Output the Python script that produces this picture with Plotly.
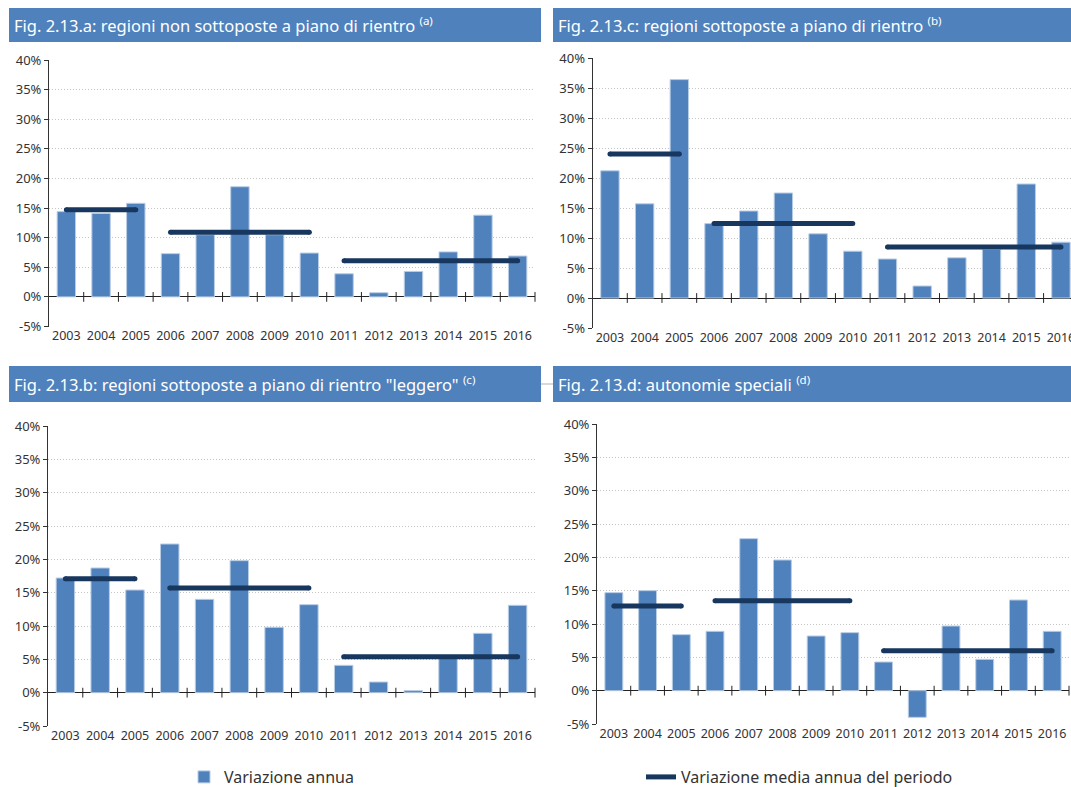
import plotly.graph_objects as go

W, H = 1071, 787

years = ["2003", "2004", "2005", "2006", "2007", "2008", "2009",
         "2010", "2011", "2012", "2013", "2014", "2015", "2016"]

# Fig. 2.13.a
a_annual = [14.4, 14.1, 15.8, 7.3, 10.5, 18.6, 10.5, 7.4, 3.9, 0.7, 4.3, 7.6, 13.8, 6.9]
a_mean = [14.7, 10.9, 6.1]
# Fig. 2.13.c
c_annual = [21.2, 15.7, 36.4, 12.4, 14.5, 17.5, 10.7, 7.8, 6.5, 2.0, 6.7, 8.1, 19.0, 9.3]
c_mean = [24.0, 12.4, 8.5]
# Fig. 2.13.b
b_annual = [17.2, 18.7, 15.4, 22.3, 14.0, 19.8, 9.8, 13.2, 4.1, 1.6, 0.3, 5.2, 8.9, 13.1]
b_mean = [17.1, 15.7, 5.4]
# Fig. 2.13.d
d_annual = [14.7, 15.0, 8.4, 8.9, 22.8, 19.6, 8.2, 8.7, 4.3, -4.0, 9.7, 4.7, 13.6, 8.9]
d_mean = [12.7, 13.5, 6.0]

periods = [("2003", "2005"), ("2006", "2010"), ("2011", "2016")]

y_ticks = [-5, 0, 5, 10, 15, 20, 25, 30, 35, 40]
y_ticktext = [f"{v}%" for v in y_ticks]

titles = [
    "Fig. 2.13.a: regioni non sottoposte a piano di rientro <sup>(a)</sup>",
    "Fig. 2.13.c: regioni sottoposte a piano di rientro <sup>(b)</sup>",
    "Fig. 2.13.b: regioni sottoposte a piano di rientro \"leggero\" <sup>(c)</sup>",
    "Fig. 2.13.d: autonomie speciali <sup>(d)</sup>",
]

BAR = "#4F81BD"
BAR_EDGE = "#B9CDE5"
MEAN = "#17375E"
HEAD = "#4F81BD"
FONT = "Noto Sans"
TFONT = "Noto Sans"

def px(x):
    return x / W

def py(y):
    return 1 - y / H

# panel layout in pixels: (x0, x1), (y of 40%, y of -5%), x range end, header box
panels = [
    dict(data=a_annual, mean=a_mean, x=(49, 535), y=(60, 326.5), xend=13.5,
         head=(9, 541, 8, 42)),
    dict(data=c_annual, mean=c_mean, x=(592.6, 1071), y=(58, 328), xend=13.29,
         head=(553, 1071, 8, 42)),
    dict(data=b_annual, mean=b_mean, x=(48, 535), y=(426, 726), xend=13.5,
         head=(9, 541, 366, 402)),
    dict(data=d_annual, mean=d_mean, x=(597, 1069), y=(424, 724), xend=13.5,
         head=(553, 1071, 366, 402)),
]

fig = go.Figure()
shapes = []
annotations = []
idx = list(range(len(years)))
boundaries = [i + 0.5 for i in idx]

for k, p in enumerate(panels):
    n = k + 1
    xa = "x" if n == 1 else f"x{n}"
    ya = "y" if n == 1 else f"y{n}"
    fig.add_trace(go.Bar(
        x=idx, y=p["data"], xaxis=xa, yaxis=ya, width=0.53,
        marker=dict(color=BAR, line=dict(color=BAR_EDGE, width=1)),
        name="Variazione annua", showlegend=False, hoverinfo="skip"))
    # zero-line tick marks at category boundaries
    fig.add_trace(go.Scatter(
        x=boundaries, y=[0] * len(boundaries), xaxis=xa, yaxis=ya,
        mode="markers", marker=dict(symbol="line-ns", size=7,
                                    line=dict(color="#222222", width=1)),
        showlegend=False, hoverinfo="skip", cliponaxis=False))
    for (s, e), m in zip(periods, p["mean"]):
        fig.add_trace(go.Scatter(
            x=[years.index(s), years.index(e)], y=[m, m], xaxis=xa, yaxis=ya,
            mode="lines+markers", line=dict(color=MEAN, width=5),
            marker=dict(color=MEAN, size=5),
            showlegend=False, hoverinfo="skip"))
    x0, x1 = p["x"]
    yt, yb = p["y"]
    common_x = dict(domain=[px(x0), px(x1)], range=[-0.5, p["xend"]],
                    tickmode="array", tickvals=idx, ticktext=years,
                    showgrid=False, zeroline=False, showline=False, ticks="",
                    ticklabeloverflow="allow",
                    tickfont=dict(family=FONT, size=12.5, color="#333333"),
                    anchor=ya, fixedrange=True)
    common_y = dict(domain=[py(yb), py(yt)], range=[-5, 40],
                    tickmode="array", tickvals=y_ticks, ticktext=y_ticktext,
                    showgrid=True, gridcolor="#C4C4C4", griddash="1px,2px",
                    gridwidth=1,
                    zeroline=True, zerolinecolor="#222222", zerolinewidth=1,
                    showline=True, linecolor="#333333", linewidth=1,
                    ticks="outside", ticklen=4, tickcolor="#333333",
                    tickfont=dict(family=FONT, size=13, color="#333333"),
                    anchor=xa, fixedrange=True)
    fig.layout["xaxis" if n == 1 else f"xaxis{n}"] = common_x
    fig.layout["yaxis" if n == 1 else f"yaxis{n}"] = common_y

    hx0, hx1, hy0, hy1 = p["head"]
    shapes.append(dict(type="rect", xref="paper", yref="paper",
                       x0=px(hx0), x1=px(hx1), y0=py(hy1), y1=py(hy0),
                       fillcolor=HEAD, line=dict(width=0), layer="below"))
    annotations.append(dict(text=titles[k], xref="paper", yref="paper",
                            x=px(hx0 + 3), y=py((hy0 + hy1) / 2),
                            xanchor="left", yanchor="middle", showarrow=False,
                            font=dict(family=TFONT, size=16.5, color="white")))

# small connector line between bottom title bars
shapes.append(dict(type="line", xref="paper", yref="paper",
                   x0=px(541), x1=px(553), y0=py(384), y1=py(384),
                   line=dict(color="#D9D9D9", width=2)))

# legend-only entries
fig.add_trace(go.Bar(x=[None], y=[None], name="Variazione annua",
                     marker=dict(color=BAR, line=dict(color=BAR_EDGE, width=1)),
                     showlegend=True, legend="legend"))
fig.add_trace(go.Scatter(x=[None], y=[None], mode="lines",
                         name="Variazione media annua del periodo",
                         line=dict(color=MEAN, width=5), showlegend=True,
                         legend="legend2"))

leg_common = dict(orientation="h", xanchor="left", yanchor="middle",
                  font=dict(family=FONT, size=16, color="#333333"),
                  bgcolor="rgba(0,0,0,0)", borderwidth=0)

fig.update_layout(
    width=W, height=H,
    margin=dict(l=0, r=0, t=0, b=0, pad=0, autoexpand=False),
    paper_bgcolor="white", plot_bgcolor="white",
    barmode="overlay", shapes=shapes, annotations=annotations,
    showlegend=True,
    legend=dict(x=px(184), y=py(777), **leg_common),
    legend2=dict(x=px(641), y=py(777), **leg_common),
)

fig.write_html("out.html",
               config={"displayModeBar": False},
               post_script="document.body.style.margin='0px';"
                           "document.body.style.overflow='hidden';")
